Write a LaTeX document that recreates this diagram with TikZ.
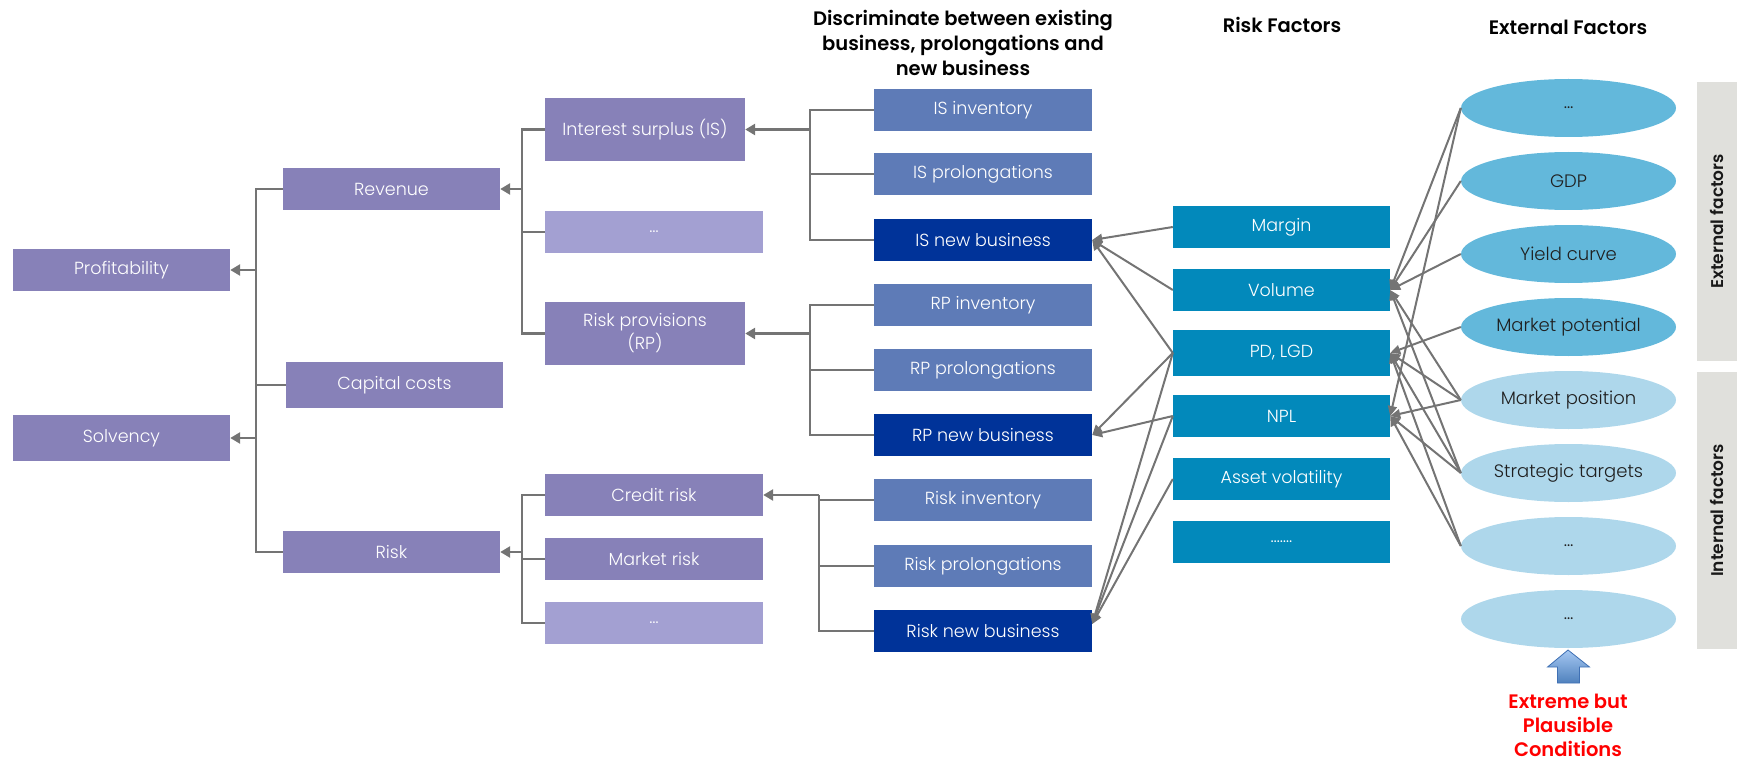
\documentclass[tikz,border=0pt]{standalone}
\usepackage{fontspec}
\setmainfont{Poppins}
\newfontfamily\lightfont{Poppins Light}
\newfontfamily\semifont{Poppins SemiBold}
\usetikzlibrary{arrows.meta,shapes.geometric}

\definecolor{purp}{HTML}{8781B8}
\definecolor{purplt}{HTML}{A3A0D2}
\definecolor{blmid}{HTML}{5E7BB7}
\definecolor{bldark}{HTML}{003399}
\definecolor{rfblue}{HTML}{0289BB}
\definecolor{elldark}{HTML}{63B8DB}
\definecolor{elllight}{HTML}{AED7EB}
\definecolor{barg}{HTML}{E0E0DC}
\definecolor{conn}{HTML}{747474}
\definecolor{redtxt}{HTML}{FF0000}
\definecolor{arrtop}{HTML}{A6C8F2}
\definecolor{arrbot}{HTML}{4F81BD}
\definecolor{arredge}{HTML}{3F70B4}

\begin{document}
\begin{tikzpicture}[x=1pt,y=-1pt,
  box/.style={rectangle, inner sep=0pt, minimum width=217pt, minimum height=42pt,
    text=white, align=center, font=\lightfont\fontsize{17.5}{23}\selectfont},
  pbox/.style={box, fill=purp},
  plbox/.style={box, fill=purplt},
  mbox/.style={box, fill=blmid, minimum width=218pt},
  dbox/.style={box, fill=bldark, minimum width=218pt},
  rbox/.style={box, fill=rfblue},
  ell/.style={ellipse, inner sep=0pt, minimum width=215pt, minimum height=58pt,
    text={black!88}, font=\lightfont\fontsize{18}{20}\selectfont},
  edark/.style={ell, fill=elldark},
  elight/.style={ell, fill=elllight},
  sidebar/.style={rectangle, fill=barg, rotate=90, inner sep=0pt, minimum height=40pt,
    text={black!90}, font=\semifont\fontsize{17}{20}\selectfont},
  head/.style={align=center, text=black, font=\semifont\fontsize{19.5}{25}\selectfont},
  tree/.style={draw=conn, line width=2.5pt},
  treearr/.style={tree, -{Triangle[length=10pt,width=11pt]}},
  link/.style={draw=conn, line width=2pt, -{Triangle[length=10pt,width=9pt]}},
]
\useasboundingbox (0,0) rectangle (1753,762);

% column headings
\node[head] (hdisc) at (963,43) {Discriminate between existing\\business, prolongations and\\new business};
\node[head] (hrisk) at (1282,25) {Risk Factors};
\node[head] (hext) at (1568,27) {External Factors};

% target figures
\node[pbox] (prof) at (121.5,270) {Profitability};
\node[pbox, minimum height=46pt] (solv) at (121.5,438) {Solvency};

% first level drivers
\node[pbox] (rev) at (391.5,189) {Revenue};
\node[pbox, minimum height=46pt] (cap) at (394.5,385) {Capital costs};
\node[pbox] (risk) at (391.5,552) {Risk};

% second level drivers
\node[pbox, minimum width=200pt, minimum height=63pt] (is) at (645,129.5) {Interest surplus (IS)};
\node[plbox, minimum width=218pt] (isd) at (654,232) {…};
\node[pbox, minimum width=200pt, minimum height=63pt] (rp) at (645,333.5) {Risk provisions\\(RP)};
\node[pbox, minimum width=218pt] (cr) at (654,495) {Credit risk};
\node[pbox, minimum width=218pt] (mr) at (654,559) {Market risk};
\node[plbox, minimum width=218pt] (rd) at (654,623) {…};

% existing business, prolongations, new business
\node[mbox] (isi) at (983,110) {IS inventory};
\node[mbox] (isp) at (983,174) {IS prolongations};
\node[dbox] (isn) at (983,240) {IS new business};
\node[mbox] (rpi) at (983,305) {RP inventory};
\node[mbox] (rpp) at (983,370) {RP prolongations};
\node[dbox] (rpn) at (983,435) {RP new business};
\node[mbox] (rki) at (983,500) {Risk inventory};
\node[mbox] (rkp) at (983,566) {Risk prolongations};
\node[dbox] (rkn) at (983,631) {Risk new business};

% risk factors
\node[rbox] (marg) at (1281.5,227) {Margin};
\node[rbox] (vol) at (1281.5,290) {Volume};
\node[rbox, minimum height=46pt] (pd) at (1281.5,353) {PD, LGD};
\node[rbox] (npl) at (1281.5,416) {NPL};
\node[rbox] (av) at (1281.5,479) {Asset volatility};
\node[rbox] (rfd) at (1281.5,542) {…….};

% external and internal factors
\node[edark] (e1) at (1568.5,108) {…};
\node[edark] (gdp) at (1568.5,181) {GDP};
\node[edark] (yc) at (1568.5,254) {Yield curve};
\node[edark] (mpot) at (1568.5,327) {Market potential};
\node[elight] (mpos) at (1568.5,400) {Market position};
\node[elight] (strat) at (1568.5,473) {Strategic targets};
\node[elight] (e7) at (1568.5,546) {…};
\node[elight] (e8) at (1568.5,619) {…};

% side bars
\node[sidebar, minimum width=279pt] (barext) at (1717,221.5) {External factors};
\node[sidebar, minimum width=277pt] (barint) at (1717,510.5) {Internal factors};

% stress arrow and caption
\shadedraw[top color=arrtop, bottom color=arrbot, draw=arredge, line width=0.8pt]
  (1568,650) -- (1589.5,667) -- (1579.5,667) -- (1579.5,683) -- (1557.5,683)
  -- (1557.5,667) -- (1547.5,667) -- cycle;
\node[align=center, text=redtxt, font=\semifont\fontsize{19.5}{24}\selectfont] (epc) at (1568,725)
  {Extreme but\\Plausible\\Conditions};

% bus lines of the tree
\coordinate (b1) at (256,0);
\coordinate (b2) at (522,0);
\coordinate (b3) at (810,0);
\coordinate (b4) at (819,0);

\draw[tree] (rev.west) -- (rev.west -| b1) -- (risk.west -| b1) -- (risk.west);
\draw[tree] (cap.west) -- (cap.west -| b1);
\draw[treearr] (prof.east -| b1) -- (prof.east);
\draw[treearr] (solv.east -| b1) -- (solv.east);

\draw[tree] (is.west) -- (is.west -| b2) -- (rp.west -| b2) -- (rp.west);
\draw[tree] (isd.west) -- (isd.west -| b2);
\draw[treearr] (rev.east -| b2) -- (rev.east);
\draw[tree] (cr.west) -- (cr.west -| b2) -- (rd.west -| b2) -- (rd.west);
\draw[tree] (mr.west) -- (mr.west -| b2);
\draw[treearr] (risk.east -| b2) -- (risk.east);

\draw[tree] (isi.west) -- (isi.west -| b3) -- (isn.west -| b3) -- (isn.west);
\draw[tree] (isp.west) -- (isp.west -| b3);
\draw[treearr] (is.east -| b3) -- (is.east);
\draw[tree] (rpi.west) -- (rpi.west -| b3) -- (rpn.west -| b3) -- (rpn.west);
\draw[tree] (rpp.west) -- (rpp.west -| b3);
\draw[treearr] (rp.east -| b3) -- (rp.east);
\draw[tree] (cr.east -| b4) -- (rkn.west -| b4) -- (rkn.west);
\draw[tree] (rki.west) -- (rki.west -| b4);
\draw[tree] (rkp.west) -- (rkp.west -| b4);
\draw[treearr] (cr.east -| b4) -- (cr.east);

% risk factors feeding new business
\draw[link] (marg.west) -- (isn.east);
\draw[link] (vol.west) -- (isn.east);
\draw[link] (pd.west) -- (isn.east);
\draw[link] (pd.west) -- (rpn.east);
\draw[link] (npl.west) -- (rpn.east);
\draw[link] (pd.west) -- ([yshift=7pt]rkn.east);
\draw[link] (npl.west) -- ([yshift=7pt]rkn.east);
\draw[link] (av.west) -- ([yshift=7pt]rkn.east);

% factors driving the risk factors
\draw[link] (e1.west) -- (vol.east);
\draw[link] (e1.west) -- (npl.east);
\draw[link] (gdp.west) -- (vol.east);
\draw[link] (yc.west) -- (vol.east);
\draw[link] (mpot.west) -- (pd.east);
\draw[link] (mpos.west) -- (vol.east);
\draw[link] (mpos.west) -- (pd.east);
\draw[link] (mpos.west) -- (npl.east);
\draw[link] (strat.west) -- (vol.east);
\draw[link] (strat.west) -- (pd.east);
\draw[link] (strat.west) -- (npl.east);
\draw[link] (e7.west) -- (pd.east);
\draw[link] (e7.west) -- (npl.east);
\end{tikzpicture}
\end{document}
